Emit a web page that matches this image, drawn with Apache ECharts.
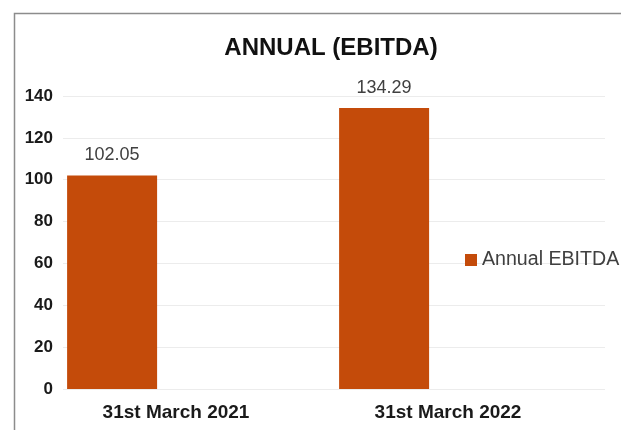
<!DOCTYPE html>
<html>
<head>
<meta charset="utf-8">
<script src="https://cdn.jsdelivr.net/npm/echarts@6/dist/echarts.min.js"></script>
<style>
html,body{margin:0;padding:0;background:#fff;}
#chart{width:621px;height:430px;}
</style>
</head>
<body>
<div id="chart"></div>
<script>
const categories = ['31st March 2021', '31st March 2022'];
const ebitda = [102.05, 134.29];
const seriesName = 'Annual EBITDA';
const titleText = 'ANNUAL (EBITDA)';
const yMin = 0, yMax = 140, yStep = 20;

const chart = echarts.init(document.getElementById('chart'), null, {renderer: 'canvas'});
const font = '"Liberation Sans", Arial, sans-serif';
chart.setOption({
  animation: false,
  backgroundColor: '#ffffff',
  graphic: [{
    type: 'rect', left: 12, top: 11, silent: true,
    shape: {width: 700, height: 500},
    style: {fill: 'none', stroke: '#8c8c8c', lineWidth: 1.5}
  }],
  title: {
    text: titleText, left: 326, top: 31, textAlign: 'center',
    textStyle: {fontFamily: font, fontSize: 24, fontWeight: 'bold', color: '#111'}
  },
  legend: {
    data: [seriesName], left: 460, top: 245, itemWidth: 12, itemHeight: 12,
    icon: 'rect', itemGap: 6,
    textStyle: {fontFamily: font, fontSize: 19.6, color: '#404040'}
  },
  grid: [
    {left: 63, right: 16, top: 96, bottom: 41},
    {left: 40, width: 544, top: 96, bottom: 41}
  ],
  xAxis: [
    {type: 'category', gridIndex: 0, data: categories, show: false},
    {type: 'category', gridIndex: 1, data: categories,
     axisLine: {show: false}, axisTick: {show: false},
     axisLabel: {fontFamily: font, fontSize: 19, fontWeight: 'bold', color: '#1a1a1a', margin: 14}}
  ],
  yAxis: [
    {type: 'value', gridIndex: 0, min: yMin, max: yMax, interval: yStep,
     axisLine: {show: false}, axisTick: {show: false},
     splitLine: {lineStyle: {color: '#ececec', width: 1}},
     axisLabel: {fontFamily: font, fontSize: 17, fontWeight: 'bold', color: '#1a1a1a', margin: 10}},
    {type: 'value', gridIndex: 1, min: yMin, max: yMax, interval: yStep, show: false,
     splitLine: {show: false}}
  ],
  series: [
    {name: seriesName, type: 'bar', xAxisIndex: 1, yAxisIndex: 1, data: ebitda,
     barWidth: 90, barGap: '42%',
     itemStyle: {color: '#C44B0A'},
     label: {show: true, position: 'top', distance: 11, fontFamily: font, fontSize: 18, color: '#404040',
             formatter: p => p.value.toFixed(2)}},
    {name: 'pad', type: 'bar', xAxisIndex: 1, yAxisIndex: 1, data: ['-', '-'], barWidth: 90,
     itemStyle: {color: 'transparent'}, silent: true}
  ]
});
</script>
</body>
</html>
